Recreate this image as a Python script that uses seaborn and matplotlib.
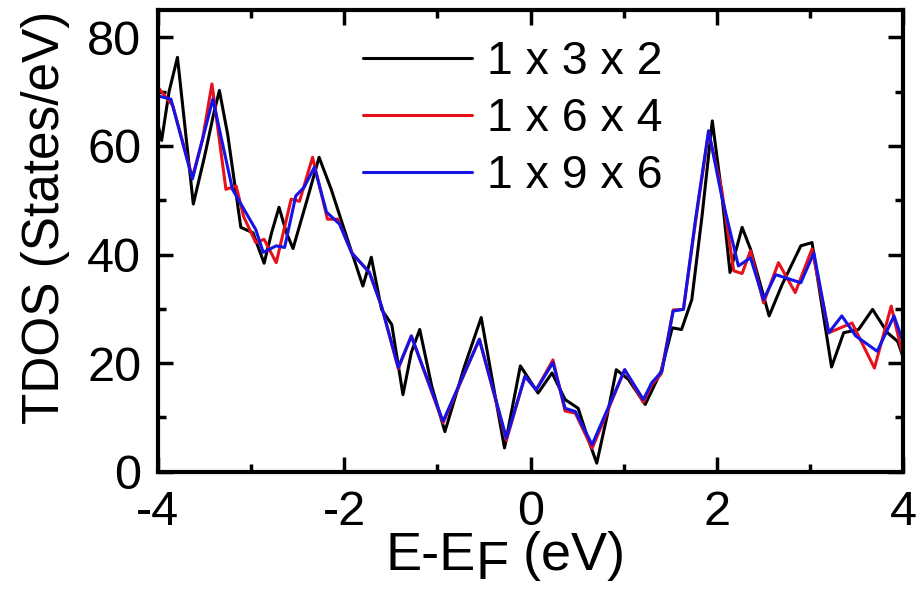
import numpy as np
import pandas as pd
import matplotlib
matplotlib.use("Agg")
import matplotlib.pyplot as plt
import seaborn as sns

# ---- data ----
e_132 = [-4.00, -3.96, -3.88, -3.79, -3.70, -3.62, -3.50, -3.40, -3.34, -3.25, -3.11, -2.98,
         -2.86, -2.78, -2.70, -2.62, -2.55, -2.40, -2.27, -2.14, -2.00, -1.80, -1.71, -1.60,
         -1.49, -1.37, -1.28, -1.19, -1.06, -0.92, -0.71, -0.53, -0.38, -0.28, -0.11, 0.08,
         0.23, 0.37, 0.51, 0.62, 0.71, 0.82, 0.92, 1.05, 1.23, 1.40, 1.52, 1.62, 1.73, 1.84,
         1.95, 2.05, 2.14, 2.27, 2.36, 2.56, 2.70, 2.90, 3.02, 3.23, 3.36, 3.52, 3.67, 3.83,
         3.94, 4.00]
tdos_132 = [64.0, 61.0, 70.0, 76.3, 62.0, 49.3, 58.0, 66.0, 70.2, 62.0, 45.0, 44.0,
            38.4, 44.0, 48.7, 44.0, 41.1, 50.0, 57.9, 52.0, 44.6, 34.2, 39.5, 29.9,
            27.1, 14.2, 22.0, 26.2, 15.7, 7.4, 19.4, 28.4, 13.9, 4.4, 19.5, 14.5,
            18.2, 13.3, 11.7, 5.9, 1.6, 10.2, 18.8, 17.0, 12.4, 18.5, 26.5, 26.2, 31.7, 47.1,
            64.6, 51.4, 36.7, 45.0, 41.0, 28.7, 34.5, 41.6, 42.2, 19.3, 25.6, 26.2, 29.9, 25.6,
            24.0, 21.0]

e_164 = [-4.00, -3.84, -3.63, -3.52, -3.42, -3.27, -3.16, -3.08, -2.95, -2.86, -2.73, -2.57,
         -2.48, -2.34, -2.18, -2.07, -1.92, -1.73, -1.60, -1.42, -1.28, -0.94, -0.55, -0.26,
         -0.06, 0.06, 0.24, 0.37, 0.48, 0.66, 1.01, 1.21, 1.30, 1.40, 1.53, 1.64, 1.77,
         1.91, 2.05, 2.18, 2.27, 2.36, 2.50, 2.66, 2.84, 3.02, 3.20, 3.45, 3.69, 3.87, 4.00]
tdos_164 = [70.8, 67.4, 54.2, 61.3, 71.4, 52.0, 52.6, 47.0, 42.2, 42.8, 38.5, 50.2,
            49.8, 57.9, 46.5, 46.5, 40.3, 36.7, 30.5, 19.0, 25.0, 9.0, 24.4, 5.8,
            17.6, 15.1, 20.6, 11.2, 10.8, 4.3, 18.8, 12.8, 16.0, 18.0, 29.8, 29.9, 46.0,
            62.5, 52.0, 37.0, 36.5, 40.7, 31.1, 38.5, 33.0, 41.0, 25.6, 27.4, 19.1, 30.5, 21.0]

e_196 = [-4.00, -3.86, -3.63, -3.41, -3.20, -2.95, -2.87, -2.73, -2.64, -2.52, -2.43, -2.32,
         -2.19, -2.05, -1.92, -1.73, -1.60, -1.42, -1.28, -0.94, -0.55, -0.26, -0.06, 0.06,
         0.24, 0.37, 0.48, 0.66, 1.01, 1.21, 1.30, 1.41, 1.53, 1.64, 1.77, 1.91, 2.05,
         2.23, 2.36, 2.50, 2.63, 2.90, 3.04, 3.20, 3.34, 3.49, 3.72, 3.90, 4.00]
tdos_196 = [69.2, 68.6, 53.9, 68.6, 52.0, 44.6, 40.4, 41.6, 41.3, 50.8, 52.4, 56.1,
            47.8, 45.6, 40.3, 36.7, 30.5, 19.2, 25.0, 9.3, 24.4, 6.2, 17.6, 15.1,
            20.1, 11.7, 11.1, 5.0, 18.8, 13.3, 16.4, 18.5, 29.6, 29.9, 46.5, 62.8, 50.8,
            37.9, 39.4, 31.7, 36.3, 34.8, 40.3, 25.6, 28.7, 25.0, 22.2, 28.7, 23.8]

labels = ["1 x 3 x 2", "1 x 6 x 4", "1 x 9 x 6"]
colors = ["#000000", "#e8101a", "#1414e6"]
x_ticks = [-4, -2, 0, 2, 4]
y_ticks = [0, 20, 40, 60, 80]

df = pd.concat([
    pd.DataFrame({"E": e_132, "TDOS": tdos_132, "cell": labels[0]}),
    pd.DataFrame({"E": e_164, "TDOS": tdos_164, "cell": labels[1]}),
    pd.DataFrame({"E": e_196, "TDOS": tdos_196, "cell": labels[2]}),
], ignore_index=True)

sns.set_theme(style="ticks")
plt.rcParams["font.family"] = ["Liberation Sans", "DejaVu Sans"]
plt.rcParams["text.color"] = "black"
plt.rcParams["axes.labelcolor"] = "black"
plt.rcParams["xtick.color"] = "black"
plt.rcParams["ytick.color"] = "black"

fig = plt.figure(figsize=(9.18, 5.92), dpi=100)
ax = fig.add_axes([0.172, 0.203, 0.812, 0.780])

sns.lineplot(data=df, x="E", y="TDOS", hue="cell", palette=dict(zip(labels, colors)),
             estimator=None, sort=False, linewidth=2.2, ax=ax, legend=True)

ax.set_xlim(-4, 4)
ax.set_ylim(0, 85)
ax.set_xticks(x_ticks)
ax.set_xticklabels([str(t) for t in x_ticks])
ax.set_yticks(y_ticks)
ax.set_xticks([-3, -1, 1, 3], minor=True)
ax.set_yticks([10, 30, 50, 70], minor=True)
ax.tick_params(which="both", direction="in", top=True, right=True, width=2.5,
               labelsize=35, colors="black", labelcolor="black")
ax.tick_params(axis="x", which="major", pad=13)
ax.tick_params(axis="y", which="major", pad=12)
ax.tick_params(which="major", length=11)
ax.tick_params(which="minor", length=6)
for sp in ax.spines.values():
    sp.set_linewidth(3)
    sp.set_color("black")

# y label
ax.set_ylabel("TDOS (States/eV)", fontsize=37, color="black")
ax.yaxis.set_label_coords(-0.118, 0.55)

# x label "E-E_F (eV)" with a full-size lowered F, as in the reference
ax.set_xlabel("")
xl_size = 39
t1 = fig.text(385 / 918, 1 - 570 / 592, "E-E", fontsize=xl_size, ha="left", va="baseline",
              color="black")
t2 = ax.annotate("F", xy=(1, 0), xycoords=t1, xytext=(0, -6.5), textcoords="offset points",
                 fontsize=xl_size, ha="left", va="bottom", annotation_clip=False, color="black")
t3 = ax.annotate(" (eV)", xy=(1, 0), xycoords=t2, xytext=(0, 6.5), textcoords="offset points",
                 fontsize=xl_size, ha="left", va="bottom", annotation_clip=False, color="black")

handles, labs = ax.get_legend_handles_labels()
leg = ax.legend(handles, labs, loc="upper left", bbox_to_anchor=(0.275, 0.935),
                frameon=False, fontsize=33.5, handlelength=2.35, handletextpad=0.32,
                labelspacing=0.28, borderaxespad=0, borderpad=0)
for h in leg.get_lines():
    h.set_linewidth(2.2)
for t in leg.get_texts():
    t.set_color("black")

fig.savefig("out.png", dpi=100)
